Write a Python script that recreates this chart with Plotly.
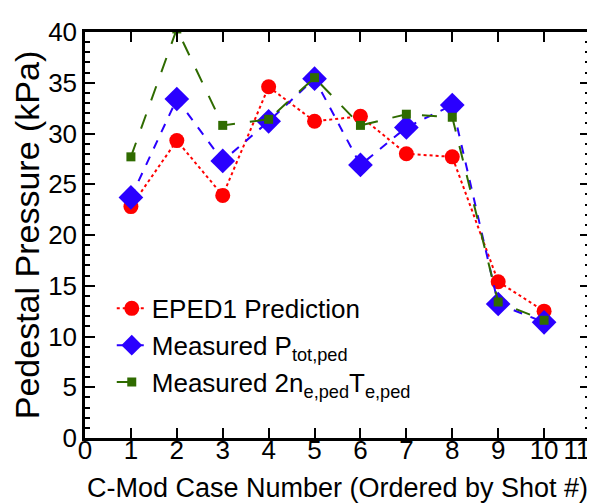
import plotly.graph_objects as go

cases = [1, 2, 3, 4, 5, 6, 7, 8, 9, 10]
eped1 = [22.8, 29.3, 23.9, 34.6, 31.2, 31.7, 28.0, 27.7, 15.4, 12.5]
ptot = [23.7, 33.4, 27.3, 31.2, 35.4, 26.9, 30.6, 32.8, 13.2, 11.4]
ne_te = [27.7, 40.3, 30.8, 31.4, 35.5, 30.8, 31.9, 31.6, 13.4, 11.6]

x_tick_vals = [0, 1, 2, 3, 4, 5, 6, 7, 8, 9, 10, 11]
x_tick_text = ["0", "1", "2", "3", "4", "5", "6", "7", "8", "9", "10", "11\u2003"]

names = ["EPED1 Prediction",
         "Measured P<sub>tot,ped</sub>",
         "Measured 2n<sub>e,ped</sub>T<sub>e,ped</sub>"]

FONT = "Liberation Sans, Arial, sans-serif"

fig = go.Figure()
fig.add_trace(go.Scatter(x=cases, y=eped1, name=names[0], mode="lines+markers",
                         line=dict(color="#ff0000", width=2, dash="dot"),
                         marker=dict(symbol="circle", size=15, color="#ff0000")))
fig.add_trace(go.Scatter(x=cases, y=ptot, name=names[1], mode="lines+markers",
                         line=dict(color="#2a00ff", width=2, dash="dash"),
                         marker=dict(symbol="diamond", size=19, color="#2a00ff")))
fig.add_trace(go.Scatter(x=cases, y=ne_te, name=names[2], mode="lines+markers",
                         line=dict(color="#2f6b00", width=2, dash="longdash"),
                         marker=dict(symbol="square", size=9, color="#2f6b00")))

fig.update_layout(
    width=595, height=503,
    margin=dict(l=77, r=13, t=24, b=73),
    plot_bgcolor="white", paper_bgcolor="white",
    font=dict(family=FONT, color="black", size=26),
    legend=dict(x=0.053, y=0.377, xanchor="left", yanchor="top",
                bgcolor="rgba(0,0,0,0)", font=dict(size=26),
                tracegroupgap=0, itemwidth=30),
    xaxis=dict(range=[0, 11], tickmode="array", tickvals=x_tick_vals,
               ticktext=x_tick_text,
               ticks="inside", ticklen=10, tickwidth=2, tickcolor="black",
               showline=True, linewidth=2.5, linecolor="black", mirror="ticks",
               showgrid=False, zeroline=False, automargin=False,
               tickfont=dict(size=26), ticklabelstandoff=-13,
               ticklabeloverflow="allow",
               title=dict(text="C-Mod Case Number (Ordered by Shot #)",
                          font=dict(size=27), standoff=15)),
    yaxis=dict(range=[0, 40], tickmode="linear", tick0=0, dtick=5,
               ticks="inside", ticklen=10, tickwidth=2, tickcolor="black",
               showline=True, linewidth=2.5, linecolor="black", mirror="ticks",
               showgrid=False, zeroline=False, automargin=False,
               tickfont=dict(size=26),
               minor=dict(dtick=1, ticks="inside", ticklen=5, tickwidth=1.5,
                          tickcolor="black", showgrid=False),
               title=dict(text="Pedestal Pressure (kPa)",
                          font=dict(size=34), standoff=13)),
)

fig.write_html("out.html")
